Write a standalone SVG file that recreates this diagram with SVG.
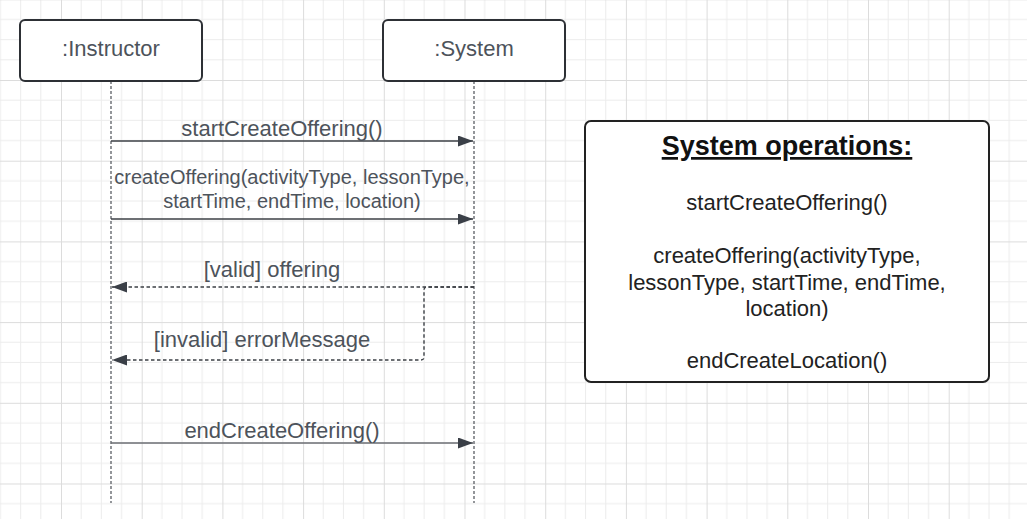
<svg xmlns="http://www.w3.org/2000/svg" width="1027" height="519" viewBox="0 0 1027 519">
  <defs>
    <pattern id="grid" patternUnits="userSpaceOnUse" x="-19.7" y="-0.7" width="80.7" height="80.7">
      <g stroke="#ececec" stroke-width="1">
        <line x1="20.175" y1="0" x2="20.175" y2="80.7"/>
        <line x1="40.35" y1="0" x2="40.35" y2="80.7"/>
        <line x1="60.525" y1="0" x2="60.525" y2="80.7"/>
        <line x1="0" y1="20.175" x2="80.7" y2="20.175"/>
        <line x1="0" y1="40.35" x2="80.7" y2="40.35"/>
        <line x1="0" y1="60.525" x2="80.7" y2="60.525"/>
      </g>
      <g stroke="#dcdcdc" stroke-width="1">
        <line x1="0.5" y1="0" x2="0.5" y2="80.7"/>
        <line x1="0" y1="0.5" x2="80.7" y2="0.5"/>
      </g>
    </pattern>
    <marker id="arrow" viewBox="0 0 15 11" refX="15" refY="5.5" markerWidth="15" markerHeight="11" markerUnits="userSpaceOnUse" orient="auto">
      <path d="M0,0 L15,5.5 L0,11 Z" fill="#3a3f47"/>
    </marker>
    <style>
      .box { fill: #ffffff; stroke: #2d3035; stroke-width: 2; }
      .lbl { font-family: "Liberation Sans", Arial, sans-serif; font-size: 22px; fill: #4d535b; text-anchor: middle; }
      .small { font-size: 20px; }
      .life { stroke: #5a5e64; stroke-width: 1.3; stroke-dasharray: 3 2; fill: none; }
      .msg { stroke: #3c4046; stroke-width: 1.6; fill: none; }
      .ret { stroke: #3c4046; stroke-width: 1.4; stroke-dasharray: 3.5 2.5; fill: none; }
      .ops { font-family: "Liberation Sans", Arial, sans-serif; font-size: 22px; fill: #222222; text-anchor: middle; }
    </style>
  </defs>

  <rect x="0" y="0" width="1027" height="519" fill="#ffffff"/>
  <rect x="0" y="0" width="1027" height="519" fill="url(#grid)"/>

  <g id="lifelines">
    <line class="life" x1="111" y1="81" x2="111" y2="503"/>
    <line class="life" x1="474" y1="81" x2="474" y2="503"/>
  </g>

  <g id="instructor">
    <rect class="box" x="20" y="20" width="182" height="61" rx="5"/>
    <text class="lbl" x="111" y="56">:Instructor</text>
  </g>

  <g id="system">
    <rect class="box" x="383" y="20" width="182" height="61" rx="5"/>
    <text class="lbl" x="474" y="56">:System</text>
  </g>

  <g id="connectors">
    <line class="msg" x1="111" y1="141" x2="473" y2="141" marker-end="url(#arrow)"/>
    <text class="lbl" x="282" y="136">startCreateOffering()</text>

    <line class="msg" x1="111" y1="219" x2="473" y2="219" marker-end="url(#arrow)"/>
    <text class="lbl small" x="292" y="184">createOffering(activityType, lessonType,</text>
    <text class="lbl small" x="292" y="208">startTime, endTime, location)</text>

    <line class="ret" x1="474" y1="287" x2="112" y2="287" marker-end="url(#arrow)"/>
    <text class="lbl" x="272" y="277">[valid] offering</text>

    <path class="ret" d="M474,287 L427,287 Q424,287 424,290 L424,357 Q424,360 421,360 L112,360" marker-end="url(#arrow)"/>
    <text class="lbl" x="262" y="347">[invalid] errorMessage</text>

    <line class="msg" x1="111" y1="443" x2="473" y2="443" stroke="#6b6e73" style="stroke:#6b6e73" marker-end="url(#arrow)"/>
    <text class="lbl" x="282" y="438">endCreateOffering()</text>
  </g>

  <g id="system-operations">
    <rect x="585" y="121" width="404" height="261" rx="6" fill="#ffffff" stroke="#222222" stroke-width="2"/>
    <text x="787" y="155" font-family="Liberation Sans, Arial, sans-serif" font-size="27" font-weight="bold" fill="#111111" text-anchor="middle" text-decoration="underline">System operations:</text>
    <text class="ops" x="787" y="210">startCreateOffering()</text>
    <text class="ops" x="787" y="263">createOffering(activityType,</text>
    <text class="ops" x="787" y="290">lessonType, startTime, endTime,</text>
    <text class="ops" x="787" y="316">location)</text>
    <text class="ops" x="787" y="368">endCreateLocation()</text>
  </g>
</svg>
